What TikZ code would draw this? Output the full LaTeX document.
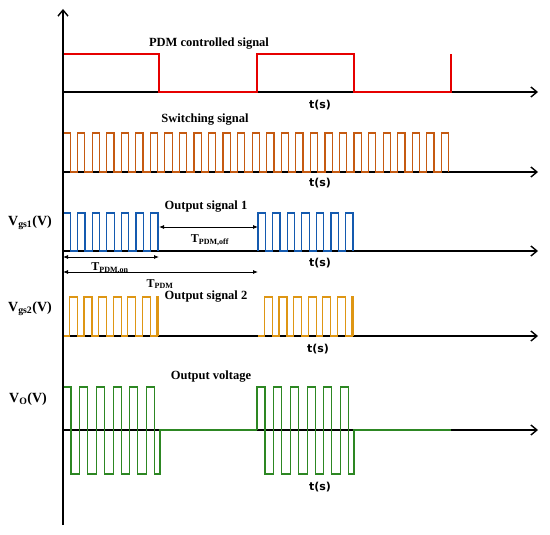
\documentclass[tikz,border=0pt]{standalone}
\usepackage{fontspec}
\setmainfont{Liberation Serif}
\newfontfamily\tsfont{DejaVu Sans}
\usetikzlibrary{arrows.meta}
\definecolor{pdmred}{RGB}{230,0,0}
\definecolor{swbrown}{RGB}{197,90,17}
\definecolor{oneblue}{RGB}{20,90,175}
\definecolor{twoorange}{RGB}{222,150,20}
\definecolor{vogreen}{RGB}{45,135,35}
\begin{document}
\begin{tikzpicture}[x=1pt,y=-1pt,
	ax/.style={line width=1.4pt,-{Straight Barb[length=6pt,width=10pt]}},
	pdm/.style={pdmred,line width=1.4pt},
	sw/.style={swbrown,line width=1.2pt},
	oa/.style={oneblue,line width=1.2pt},
	ob/.style={twoorange,line width=1.2pt},
	vo/.style={vogreen,line width=1.2pt},
	dim/.style={line width=0.8pt,{Latex[length=5pt,width=4pt]}-{Latex[length=5pt,width=4pt]}},
	lbl/.style={font=\bfseries\fontsize{12.5}{14}\selectfont},
	dlbl/.style={font=\bfseries\fontsize{12}{14}\selectfont},
	ylbl/.style={font=\bfseries\fontsize{14}{16}\selectfont},
	tlbl/.style={font=\tsfont\bfseries\fontsize{11}{13}\selectfont}]
	\useasboundingbox (0,0) rectangle (550,535);
	
	% time axes
	\foreach \y in {92,172,251,336,430}
		\draw[ax] (63,\y) -- (538,\y);
	
	% PDM controlled signal
	\draw[pdm] (63,54) -- (159,54) -- (159,92) -- (257,92) -- (257,54) -- (354,54) -- (354,92) -- (451,92) -- (451,54);
	\node[lbl] (pdm) at (209,44) {PDM controlled signal};
	\node[tlbl] (t1) at (320,105) {t(s)};
	
	% switching signal
	\draw[sw] (63,172) \foreach \k in {0,...,26}{ -| ({63+14.55*\k},133) -- ++(7.27,0) -- ++(0,39) };
	\node[lbl] (swlbl) at (205,120) {Switching signal};
	\node[tlbl] (t2) at (320,183) {t(s)};
	
	% output signal 1
	\foreach \b in {63,258}
		\draw[oa] (\b,251) \foreach \k in {0,...,6}{ -| ({\b+14.6*\k},213) -- ++(7.3,0) -- ++(0,38) };
	\node[lbl] (oalbl) at (206,207) {Output signal 1};
	\node[ylbl] (vgs1) at (30,223) {V\textsubscript{gs1}(V)};
	\node[tlbl] (t3) at (320,263) {t(s)};
	
	\coordinate (offL) at (159,227);
	\coordinate (offR) at (258,227);
	\coordinate (onL) at (63,257);
	\coordinate (onR) at (159,257);
	\coordinate (perL) at (63,272);
	\coordinate (perR) at (258,272);
	\draw[dim] (offL) -- (offR);
	\draw[dim] (onL) -- (onR);
	\draw[dim] (perL) -- (perR);
	\node[dlbl] (toff) at (210,240) {T\textsubscript{PDM,off}};
	\node[dlbl] (ton) at (110,268) {T\textsubscript{PDM,on}};
	\node[dlbl] (tper) at (160,284) {T\textsubscript{PDM}};
	
	% output signal 2
	\foreach \b in {63,258}
		\draw[ob] (\b,336) \foreach \k in {0,...,5}{ -| ({\b+14.6*\k+6.3},297) -- ++(8,0) -- ++(0,39) } -| ({\b+94},297) -- ++(1,0) -- ++(0,39);
	\node[lbl] (oblbl) at (206,297) {Output signal 2};
	\node[ylbl] (vgs2) at (30,309) {V\textsubscript{gs2}(V)};
	\node[tlbl] (t4) at (318,349) {t(s)};
	
	% output voltage
	\foreach \b in {63,257}
		\draw[vo] (\b,430) \foreach \k in {0,...,5}{ -| ({\b+16.7*\k},387) -- ++(8,0) -- ++(0,87) } -| ({\b+97},430) -- ++(97,0);
	\node[lbl] (volbl) at (211,377) {Output voltage};
	\node[ylbl] (vout) at (28,399) {V\textsubscript{O}(V)};
	\node[tlbl] (t5) at (320,487) {t(s)};
	
	% vertical axis
	\draw[ax] (63,525) -- (63,9);
\end{tikzpicture}
\end{document}
